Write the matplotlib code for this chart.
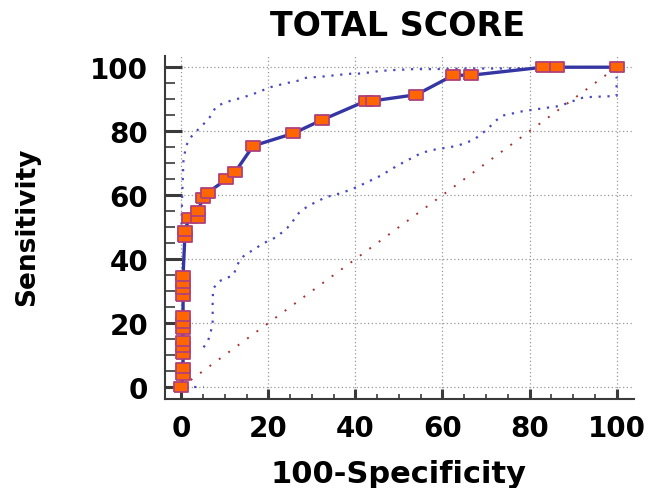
import matplotlib
matplotlib.use("Agg")
import matplotlib.pyplot as plt
import numpy as np

# ROC curve points (100-Specificity, Sensitivity)
roc_fpr = [0, 0.4, 0.4, 0.4, 0.4, 0.4, 0.4, 0.4, 0.4, 0.4, 0.4, 0.4, 0.4,
           0.8, 0.8, 1.8, 3.8, 3.8, 5.0, 6.1, 10.3, 12.3, 16.5, 25.7, 32.3,
           42.5, 44.1, 54.0, 62.5, 66.6, 83.1, 86.3, 100]
roc_sens = [0, 3.8, 5.8, 10.3, 12.4, 14.5, 18.1, 20.0, 22.1, 28.3, 30.6, 32.5, 34.6,
            46.8, 48.9, 52.7, 52.7, 55.1, 59.1, 60.8, 64.9, 67.1, 75.4, 79.3, 83.5,
            89.5, 89.5, 91.4, 97.5, 97.5, 100, 100, 100]

# Upper confidence band
upper_x = [0, 0.2, 0.5, 1.1, 2.1, 3.2, 5.1, 6.5, 8.0, 9.6, 11.3, 13.2, 14.7, 16.5,
           19.3, 20.6, 24.1, 26.6, 28.9, 30.8, 32.6, 36.1, 39.2, 40.8, 42.3, 43.4,
           45.3, 48.7, 53.3, 57.9, 66, 73, 79]
upper_y = [48, 60, 71, 75.4, 78, 79.6, 82.2, 84.3, 87.7, 88.7, 89.5, 90.2, 90.8, 91.6,
           93.1, 93.8, 95, 95.7, 96.8, 96.9, 97.1, 97.6, 98, 98, 98.3, 98.3,
           98.8, 99.1, 99.4, 99.4, 99.6, 99.6, 99.7]

# Lower confidence band
lower_x = [0.9, 5.1, np.nan, 5.1, 6.1, 7.2, 7.2, 7.2, 7.3, 8.4, 12.0, 12.8, 13.6, 15.1,
           16.3, 18.0, 19.8, 20.9, 21.8, 24.3, 25.1, 27.0, 29.0, 31.3, 33.3, 36.6,
           38.9, 41.1, 42.3, 45.7, 49.6, 54.9, 57.2, 63.4, 67.2, 70.3, 72.2, 73.6,
           78.3, 79.8, 81.8, 87.1, 88.7, 92.5, 100, 100]
lower_y = [0, 0, np.nan, 12.4, 14.2, 19.4, 23.1, 27.0, 30.6, 32.9, 35.0, 38.0, 40.0, 41.9,
           42.6, 44.2, 45.6, 46.3, 46.8, 49.7, 50.9, 54.4, 56.5, 58.1, 59.4, 60.6,
           61.7, 63.0, 63.8, 66.0, 69.2, 73.0, 74.0, 75.4, 77.3, 80.6, 83.2, 84.8,
           86.2, 86.5, 86.9, 87.9, 88.8, 90.6, 91, 97]

# Reference diagonal
diag_x = [0, 100]
diag_y = [0, 100]

major_ticks = [0, 20, 40, 60, 80, 100]
tick_labels = ["0", "20", "40", "60", "80", "100"]

W, H = 651, 489
fig = plt.figure(figsize=(W / 100, H / 100), dpi=100)
ax = fig.add_axes([165 / W, 1 - 400 / H, (634 - 165) / W, (400 - 56.7) / H])
ax.set_xlim(-3.75, 104)
ax.set_ylim(-3.76, 103.6)

font = "DejaVu Sans"

# grid
ax.set_xticks(major_ticks)
ax.set_yticks(major_ticks)
ax.set_xticks(np.arange(0, 101, 5), minor=True)
ax.set_yticks(np.arange(0, 101, 5), minor=True)
ax.grid(True, which="major", color="#9a9a9a", linestyle=(0, (1, 2)), linewidth=0.9)
ax.set_axisbelow(True)

# diagonal
ax.plot(diag_x, diag_y, color="#a83232", linestyle=(0, (1, 5)), linewidth=1.4, zorder=2)
# confidence bands
ax.plot(upper_x, upper_y, color="#4848c0", linestyle=(0, (1, 3)), linewidth=1.6, zorder=2)
ax.plot(lower_x, lower_y, color="#4848c0", linestyle=(0, (1, 3)), linewidth=1.6, zorder=2)

# ROC curve
rect = [(-1.25, -1), (1.25, -1), (1.25, 1), (-1.25, 1), (-1.25, -1)]
ax.plot(roc_fpr, roc_sens, color="#3535a4", linewidth=2.4, zorder=3)
ax.plot(roc_fpr, roc_sens, linestyle="none", marker=rect, markersize=9.5,
        markerfacecolor="#ff6600", markeredgecolor="#b0407a", markeredgewidth=1.3, zorder=4)

for s in ["top", "right"]:
    ax.spines[s].set_visible(False)
for s in ["left", "bottom"]:
    ax.spines[s].set_color("#3a3a3a")
    ax.spines[s].set_linewidth(1.5)

ax.set_xticklabels(tick_labels, fontsize=20, fontweight="bold", family=font)
ax.set_yticklabels(tick_labels, fontsize=20, fontweight="bold", family=font)
ax.tick_params(axis="x", which="major", direction="in", length=7.5, width=2.2,
               color="#3a3a3a", pad=11)
ax.tick_params(axis="x", which="minor", direction="in", length=3.8, width=1.2,
               color="#3a3a3a")
ax.tick_params(axis="y", which="major", direction="in", length=12, width=2.2,
               color="#3a3a3a", pad=12)
ax.tick_params(axis="y", which="minor", direction="in", length=7, width=1.2,
               color="#3a3a3a")

fig.text(398 / W, 1 - 27 / H, "TOTAL SCORE", ha="center", va="center",
         fontsize=24, fontweight="bold", family=font)
fig.text(399 / W, 1 - 483 / H, "100-Specificity", ha="center", va="baseline",
         fontsize=22, fontweight="bold", family=font)
fig.text(27 / W, 1 - 227 / H, "Sensitivity", ha="center", va="center", rotation=90,
         fontsize=19, fontweight="bold", family=font)

fig.savefig("out.png", dpi=100)
